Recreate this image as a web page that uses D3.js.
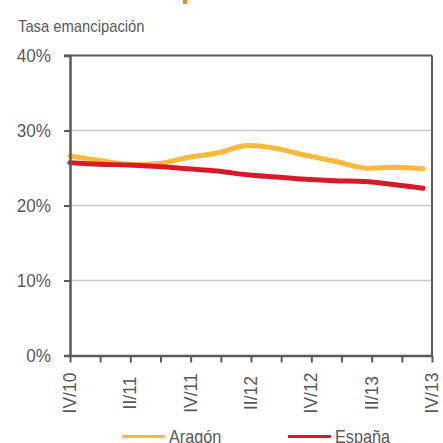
<!DOCTYPE html>
<html><head><meta charset="utf-8">
<script src="https://cdn.jsdelivr.net/npm/d3@7"></script>
<style>
html,body{margin:0;padding:0;background:#fff;}
svg{display:block;}
text{font-family:"Liberation Sans Narrow","Arial Narrow","Liberation Sans",Arial,sans-serif;fill:#595959;}
</style></head><body>
<svg id="chart" width="443" height="443"></svg>
<script>
const quarters = ["IV/10","I/11","II/11","III/11","IV/11","I/12","II/12","III/12","IV/12","I/13","II/13","III/13","IV/13"];
const tickLabels = ["IV/10","II/11","IV/11","II/12","IV/12","II/13","IV/13"];
const aragon = [26.6,26.0,25.5,25.6,26.4,27.0,28.0,27.6,26.7,25.9,25.0,25.1,24.9];
const espana = [25.7,25.5,25.4,25.2,24.9,24.6,24.1,23.8,23.5,23.3,23.2,22.8,22.3];
const yTicks = [0,10,20,30,40];
const seriesNames = ["Aragón","España"];
const seriesColors = ["#FDB93B","#D71A28"];

(function(){
const svg = d3.select("#chart");
const pLeft = 70, pRight = 432, pTop = 55.5, pBottom = 355.5;

// cut-off header remnant
svg.append("rect").attr("x",183).attr("y",0).attr("width",4).attr("height",4).attr("fill","#F58220");

svg.append("text").attr("transform","translate(18,32) scale(0.87,1)").attr("font-size",17).text("Tasa emancipación");

const y = d3.scaleLinear().domain([0,40]).range([pBottom, pTop]);
const xAxisScale = d3.scaleLinear().domain([0, quarters.length-1]).range([pLeft, pRight]);
const xData = d3.scaleLinear().domain([0, quarters.length-1]).range([pLeft, 423]);

// gridlines
svg.append("g").selectAll("line").data(yTicks.filter(d=>d>0 && d<40)).join("line")
  .attr("x1",pLeft).attr("x2",pRight).attr("y1",d=>y(d)).attr("y2",d=>y(d))
  .attr("stroke","#c8c8c8").attr("stroke-width",1.5);

// lines
const line = d3.line().x((d,i)=>xData(i)).y(d=>y(d)).curve(d3.curveCatmullRom.alpha(0.5));
[aragon, espana].forEach((s,k)=>{
  svg.append("path").datum(s).attr("d",line).attr("fill","none")
    .attr("stroke",seriesColors[k]).attr("stroke-width",5).attr("stroke-linecap","round");
});

// frame
const frameColor = "#5a5a5a";
svg.append("line").attr("x1",64).attr("x2",pRight).attr("y1",pTop).attr("y2",pTop).attr("stroke",frameColor).attr("stroke-width",2);
svg.append("line").attr("x1",pRight).attr("x2",pRight).attr("y1",pTop).attr("y2",pBottom).attr("stroke",frameColor).attr("stroke-width",2);

// y axis
const yAxis = d3.axisLeft(y).tickValues(yTicks).tickFormat(d=>d+"%").tickSize(6).tickPadding(13);
const gy = svg.append("g").attr("transform",`translate(${pLeft},0)`).call(yAxis);
gy.attr("font-family",null).attr("font-size",null);
gy.select(".domain").attr("stroke",frameColor).attr("stroke-width",2.5);
gy.selectAll(".tick line").attr("stroke",frameColor).attr("stroke-width",2);
gy.selectAll(".tick text").attr("font-size",19).style("fill","#595959")
  .attr("x",null).attr("transform","translate(-19,0) scale(0.9,1)");

// x axis
const xAxis = d3.axisBottom(xAxisScale).tickValues(d3.range(quarters.length)).tickFormat(()=> "").tickSize(7).tickSizeOuter(0);
const gx = svg.append("g").attr("transform",`translate(0,${pBottom})`).call(xAxis);
gx.select(".domain").attr("stroke",frameColor).attr("stroke-width",2.5);
gx.selectAll(".tick line").attr("stroke",frameColor).attr("stroke-width",2);

svg.append("g").selectAll("text").data(tickLabels).join("text")
  .attr("transform",d=>`translate(${xAxisScale(quarters.indexOf(d))+6},393) rotate(-90)`)
  .attr("text-anchor","middle").attr("font-size",17.5).text(d=>d);

// legend
const legX = [122, 288];
seriesNames.forEach((n,k)=>{
  svg.append("line").attr("x1",legX[k]).attr("x2",legX[k]+43).attr("y1",436.5).attr("y2",436.5)
    .attr("stroke",seriesColors[k]).attr("stroke-width",3);
  svg.append("text").attr("transform",`translate(${legX[k]+47},443) scale(0.9,1)`).attr("font-size",18).text(n);
});
})();
</script>
</body></html>
